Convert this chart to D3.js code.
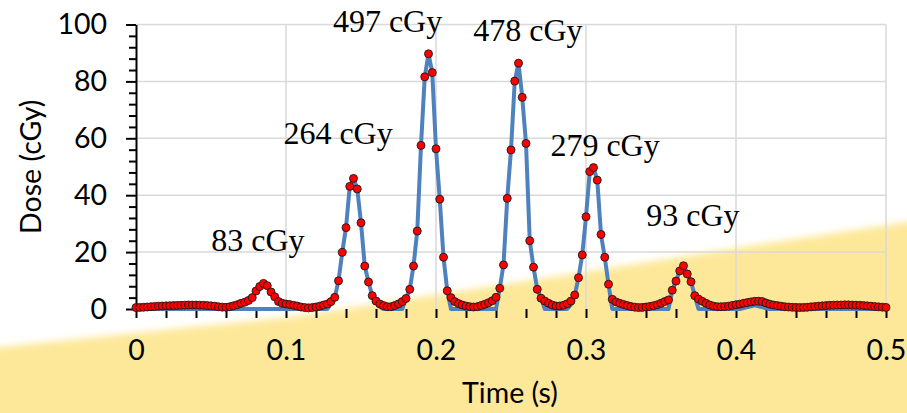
<!DOCTYPE html>
<html>
<head>
<meta charset="utf-8">
<script src="https://cdn.jsdelivr.net/npm/d3@7"></script>
<style>
  body { margin: 0; background: #fff; }
  svg { display: block; }
</style>
</head>
<body>
<div class="container"></div>
<script>
// measured dose, one sample every 2.5 ms from 0 to 0.5 s
const SAMPLE_STEP = 0.0025;
const doseValues = [
    0.5, 0.55, 0.6, 0.7, 0.8, 0.9, 1.0, 1.05, 1.1, 1.15,
    1.2, 1.25, 1.3, 1.35, 1.4, 1.4, 1.4, 1.35, 1.3, 1.2,
    1.1, 1.0, 0.8, 0.65, 0.6, 0.8, 1.1, 1.5, 2.0, 2.4,
    3.0, 4.0, 6.3, 7.9, 9.0, 8.2, 6.0, 4.3, 2.6, 2.0,
    1.75, 1.55, 1.3, 1.05, 0.7, 0.5, 0.4, 0.5, 0.7, 1.0,
    1.4, 1.75, 2.6, 4.1, 9.9, 19.9, 28.6, 43.1, 45.9, 42.2,
    30.3, 15.1, 9.5, 4.7, 2.8, 1.8, 1.2, 0.8, 0.8, 1.2,
    1.8, 2.6, 3.7, 6.9, 15.1, 27.4, 57.5, 81.6, 89.7, 83.1,
    56.3, 38.6, 18.2, 6.4, 4.0, 2.6, 1.9, 1.4, 1.05, 0.8,
    0.7, 0.8, 1.2, 1.65, 2.2, 2.9, 4.1, 7.3, 15.5, 38.9,
    55.9, 80.1, 86.4, 74.4, 58.2, 24.0, 14.7, 6.9, 3.8, 2.8,
    2.0, 1.4, 1.05, 1.05, 1.3, 1.85, 2.8, 4.9, 11.0, 19.0,
    32.4, 48.3, 49.7, 45.3, 26.2, 18.2, 8.7, 3.4, 2.5, 2.0,
    1.6, 1.2, 0.85, 0.65, 0.5, 0.55, 0.7, 0.9, 1.15, 1.5,
    2.0, 2.6, 3.2, 6.6, 9.8, 13.4, 15.2, 12.3, 9.6, 4.7,
    3.5, 2.7, 2.0, 1.4, 1.0, 0.8, 0.8, 0.85, 1.0, 1.25,
    1.5, 1.7, 2.0, 2.25, 2.5, 2.7, 2.75, 2.6, 2.1, 1.7,
    1.4, 1.2, 1.0, 0.8, 0.7, 0.6, 0.55, 0.5, 0.55, 0.6,
    0.75, 0.85, 1.0, 1.1, 1.2, 1.3, 1.35, 1.4, 1.4, 1.45,
    1.45, 1.4, 1.35, 1.3, 1.2, 1.1, 1.0, 0.85, 0.75, 0.65,
    0.55
];

// fitted pulse curve (blue line)
const fitTimes = [
    0, 0.1275, 0.13, 0.1325, 0.135, 0.1375, 0.14, 0.1425, 0.145, 0.1475,
    0.15, 0.1525, 0.155, 0.1575, 0.16, 0.1625, 0.165,
    0.1775, 0.18, 0.1825, 0.185, 0.1875, 0.19, 0.1925, 0.195, 0.1975,
    0.2, 0.2025, 0.205, 0.2075, 0.21,
    0.24, 0.2425, 0.245, 0.2475, 0.25, 0.2525, 0.255, 0.2575, 0.26,
    0.2625, 0.265, 0.2675, 0.27, 0.2725,
    0.2875, 0.29, 0.2925, 0.295, 0.2975, 0.3, 0.3025, 0.305, 0.3075,
    0.31, 0.3125, 0.315, 0.3175,
    0.355, 0.3575, 0.36, 0.3625, 0.365, 0.3675, 0.37, 0.3725, 0.375,
    0.4025, 0.4125, 0.4225, 0.5
];
const fitDoses = [
    0, 0, 1.8, 4.1, 9.9, 19.9, 28.6, 43.1, 45.9, 42.2,
    30.3, 15.1, 9.5, 4.7, 2.8, 0.8, 0,
    0, 3.7, 6.9, 15.1, 27.4, 57.5, 81.6, 89.7, 83.1,
    56.3, 38.6, 18.2, 6.4, 0,
    0, 7.3, 15.5, 38.9, 55.9, 80.1, 86.4, 74.4, 58.2,
    24.0, 14.7, 6.9, 3.8, 0,
    0, 1.5, 4.9, 11.0, 19.0, 32.4, 48.3, 49.7, 45.3,
    26.2, 18.2, 8.7, 0,
    0, 6.6, 9.8, 13.4, 15.2, 12.3, 9.6, 4.7, 0,
    0, 1.3, 0, 0
];

const peakLabels = ['83 cGy', '264 cGy', '497 cGy', '478 cGy', '279 cGy', '93 cGy'];
const peakLabelTimes = [0.0813, 0.1347, 0.1677, 0.2613, 0.3127, 0.3713];
const peakLabelDoses = [20.4, 58.0, 97.5, 94.3, 53.8, 29.0];

const yTicks = [0, 20, 40, 60, 80, 100];
const xTicks = [0, 0.1, 0.2, 0.3, 0.4, 0.5];

const WIDTH = 907;
const HEIGHT = 413;
const PLOT_LEFT = 136;
const PLOT_RIGHT = 886;
const PLOT_TOP = 24.5;
const PLOT_BOTTOM = 309;
const SANS = 'Lato, "Open Sans", sans-serif';
const SERIF = '"Liberation Serif", "DejaVu Serif", serif';

var svg = d3.select('.container').append('svg')
    .attr('width', WIDTH)
    .attr('height', HEIGHT);

// yellow slide backdrop with a soft edge
var defs = svg.append('defs');
defs.append('filter')
    .attr('id', 'soft')
    .attr('x', '-5%').attr('y', '-20%')
    .attr('width', '110%').attr('height', '140%')
    .append('feGaussianBlur')
    .attr('stdDeviation', 3.5);

var backdrop = [[-20, 349], [0, 347], [289, 317], [578, 273], [723, 250], [907, 222], [930, 217], [930, 440], [-20, 440]];
svg.append('path')
    .attr('d', d3.line()(backdrop) + 'Z')
    .attr('fill', '#fde89a')
    .attr('filter', 'url(#soft)');

var xScale = d3.scaleLinear()
    .domain([0, 0.5])
    .range([PLOT_LEFT, PLOT_RIGHT]);

var yScale = d3.scaleLinear()
    .domain([0, 100])
    .range([PLOT_BOTTOM, PLOT_TOP]);

// gridlines
var grid = svg.append('g').attr('stroke', '#d9d9d9').attr('stroke-width', 1.5);
grid.selectAll('.hgrid').data(yTicks.filter(d => d > 0))
    .enter().append('line')
    .attr('x1', xScale(0)).attr('x2', xScale(0.5))
    .attr('y1', d => yScale(d)).attr('y2', d => yScale(d));
grid.selectAll('.vgrid').data(xTicks.filter(d => d > 0))
    .enter().append('line')
    .attr('x1', d => xScale(d)).attr('x2', d => xScale(d))
    .attr('y1', yScale(0)).attr('y2', yScale(100));

// y axis with minor ticks
var yMinor = d3.range(0, 101, 4).filter(d => d % 20 !== 0);
svg.append('g')
    .attr('transform', `translate(${PLOT_LEFT}, 0)`)
    .call(d3.axisLeft(yScale).tickValues(yMinor).tickSize(7).tickFormat(''))
    .call(g => g.select('.domain').remove())
    .call(g => g.selectAll('line').attr('stroke', '#000').attr('stroke-width', 2));

var yAxisG = svg.append('g')
    .attr('transform', `translate(${PLOT_LEFT}, 0)`)
    .call(d3.axisLeft(yScale).tickValues(yTicks).tickSize(10).tickSizeOuter(0).tickPadding(19));
yAxisG.select('.domain').attr('stroke', '#000').attr('stroke-width', 2);
yAxisG.selectAll('line').attr('stroke', '#000').attr('stroke-width', 2);
yAxisG.selectAll('text')
    .attr('font-family', SANS).attr('font-size', 28.5).attr('fill', '#000');

// x axis ticks every 0.02, labels every 0.1
var xMinor = d3.range(0, 0.5001, 0.02);
svg.append('g')
    .attr('transform', `translate(0, ${PLOT_BOTTOM})`)
    .call(d3.axisBottom(xScale).tickValues(xMinor).tickSize(9).tickFormat(''))
    .call(g => g.select('.domain').remove())
    .call(g => g.selectAll('line').attr('stroke', '#000').attr('stroke-width', 2));

var xAxisG = svg.append('g')
    .attr('transform', `translate(0, ${PLOT_BOTTOM})`)
    .call(d3.axisBottom(xScale).tickValues(xTicks).tickSize(0).tickPadding(31)
        .tickFormat(d => d === 0 ? '0' : d3.format('.1f')(d)));
xAxisG.select('.domain').remove();
xAxisG.selectAll('text')
    .attr('font-family', SANS).attr('font-size', 28.5).attr('fill', '#000');

// axis titles
svg.append('text')
    .attr('transform', `translate(41, ${(PLOT_TOP + PLOT_BOTTOM) / 2}) rotate(-90)`)
    .attr('text-anchor', 'middle')
    .attr('font-family', SANS).attr('font-size', 28.5)
    .text('Dose (cGy)');

svg.append('text')
    .attr('x', 510).attr('y', 403)
    .attr('text-anchor', 'middle')
    .attr('font-family', SANS).attr('font-size', 28.5)
    .text('Time (s)');

// fitted curve
var fitPoints = fitTimes.map((t, i) => [t, fitDoses[i]]);
svg.append('path')
    .datum(fitPoints)
    .attr('fill', 'none')
    .attr('stroke', '#4f81bd')
    .attr('stroke-width', 4)
    .attr('stroke-linejoin', 'round')
    .attr('d', d3.line().x(p => xScale(p[0])).y(p => yScale(p[1])));

// measured points
var samples = doseValues.map((v, i) => ({ time: i * SAMPLE_STEP, dose: v }));
svg.append('g').selectAll('circle').data(samples)
    .enter().append('circle')
    .attr('cx', s => xScale(s.time))
    .attr('cy', s => yScale(s.dose))
    .attr('r', 4)
    .attr('fill', '#ff0000')
    .attr('stroke', '#1a1a1a')
    .attr('stroke-width', 0.9);

// peak annotations
svg.append('g').selectAll('text').data(peakLabels)
    .enter().append('text')
    .attr('x', (d, i) => xScale(peakLabelTimes[i]))
    .attr('y', (d, i) => yScale(peakLabelDoses[i]))
    .attr('text-anchor', 'middle')
    .attr('font-family', SERIF).attr('font-size', 32)
    .attr('fill', '#000')
    .text(d => d);
</script>
</body>
</html>
